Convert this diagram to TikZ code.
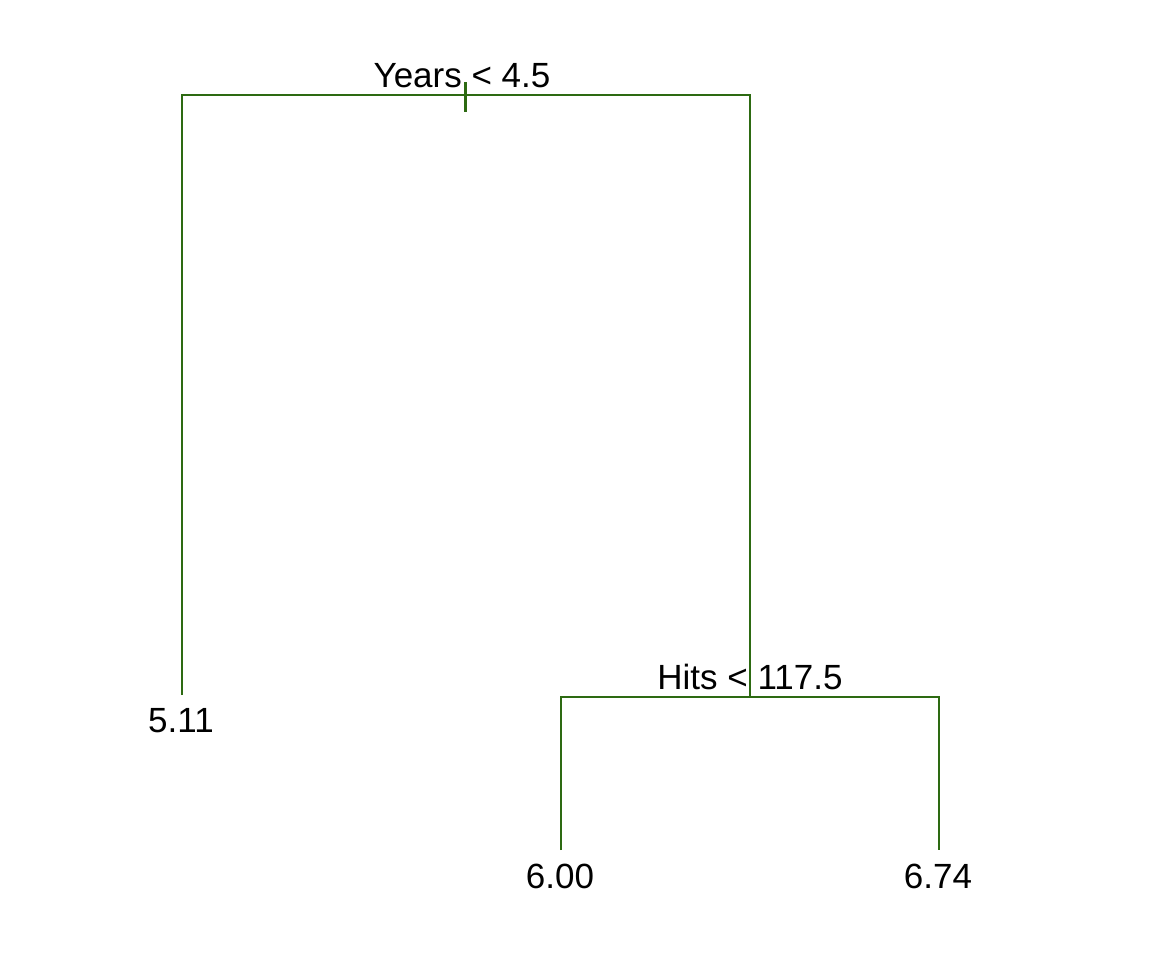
\documentclass[tikz,border=0pt]{standalone}
\usepackage{fontspec}
\setmainfont{Liberation Sans}
\definecolor{treegreen}{RGB}{45,106,18}
\begin{document}
\begin{tikzpicture}[x=1pt,y=-1pt,
  edge/.style={draw=treegreen,line width=2pt},
  lbl/.style={inner sep=0pt,anchor=base,font=\fontsize{35}{40}\selectfont}]
\useasboundingbox (0,0) rectangle (1158,954);
% coordinates
\coordinate (rootL) at (182,95);
\coordinate (rootR) at (750,95);
\coordinate (tickT) at (465,82);
\coordinate (tickB) at (465,112);
\coordinate (leafA) at (182,695);
\coordinate (split2) at (750,697);
\coordinate (s2L) at (561,697);
\coordinate (s2R) at (939,697);
\coordinate (leafB) at (561,850);
\coordinate (leafC) at (939,850);
% edges
\draw[edge] (leafA) -- (rootL) -- (rootR) -- (split2);
\draw[edge,line width=3pt] (tickT) -- (tickB);
\draw[edge] (leafB) -- (s2L) -- (s2R) -- (leafC);
% labels
\node[lbl] (t1) at (462,87) {Years < 4.5};
\node[lbl] (t2) at (750,689) {Hits < 117.5};
\node[lbl] (n1) at (181,732) {5.11};
\node[lbl] (n2) at (560,888) {6.00};
\node[lbl] (n3) at (938,888) {6.74};
\end{tikzpicture}
\end{document}
